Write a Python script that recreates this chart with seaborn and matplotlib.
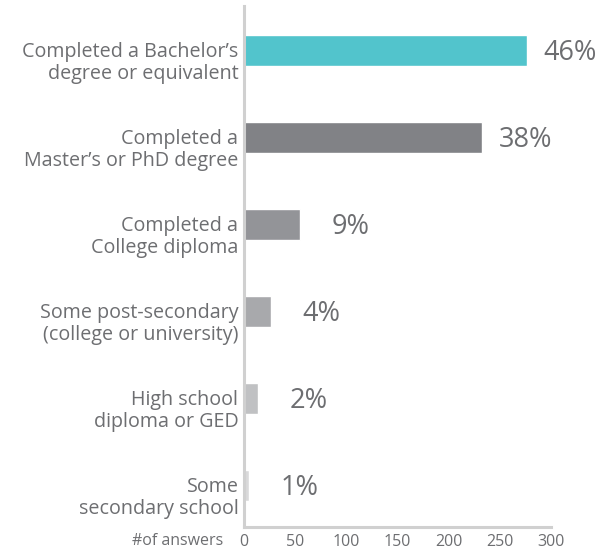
import pandas as pd
import seaborn as sns
import matplotlib.pyplot as plt
from matplotlib.transforms import ScaledTranslation

# Datos
categorias = [
    "Completed a Bachelor’s\ndegree or equivalent",
    "Completed a\nMaster’s or PhD degree",
    "Completed a\nCollege diploma",
    "Some post-secondary\n(college or university)",
    "High school\ndiploma or GED",
    "Some\nsecondary school",
]
respuestas = [277, 233, 55, 26, 14, 5]
porcentajes = ["46%", "38%", "9%", "4%", "2%", "1%"]
colores = ["#52c4cc", "#818286", "#939498", "#a8a9ac", "#c0c1c3", "#d9d9da"]
ticks_x = [0, 50, 100, 150, 200, 250, 300]

df = pd.DataFrame({"categoria": categorias, "respuestas": respuestas})

sns.set_style("white")
plt.rcParams["font.family"] = ["Open Sans", "DejaVu Sans"]

GRIS_TXT = "#6d6e71"
GRIS_EJE = "#d0d0d0"

fig = plt.figure(figsize=(6.01, 5.55), dpi=100)
ax = fig.add_axes([244 / 601, 1 - 527 / 555, 307 / 601, 521 / 555])

sns.barplot(data=df, x="respuestas", y="categoria", hue="categoria",
            palette=colores, legend=False, width=0.36, ax=ax, saturation=1)

ax.set_xlim(0, 300)
ax.set_ylim(5.48, -0.51)
ax.set_xticks(ticks_x)
ax.set_xlabel("")
ax.set_ylabel("")

for s in ["top", "right"]:
    ax.spines[s].set_visible(False)
for s in ["left", "bottom"]:
    ax.spines[s].set_color(GRIS_EJE)
    ax.spines[s].set_linewidth(2.2)

ax.tick_params(axis="x", direction="in", length=9, width=2.2, color=GRIS_EJE,
               labelsize=11.5, labelcolor=GRIS_TXT, pad=5)
ax.tick_params(axis="y", length=0, labelsize=14.2, labelcolor=GRIS_TXT, pad=4)

# etiquetas de categoria algo por debajo del centro de la barra
desplazar = ScaledTranslation(0, -9 / 100, fig.dpi_scale_trans)
for lab in ax.get_yticklabels():
    lab.set_horizontalalignment("right")
    lab.set_multialignment("right")
    lab.set_linespacing(1.12)
    lab.set_transform(lab.get_transform() + desplazar)

# porcentajes a la derecha de cada barra
for barra, txt in zip(ax.patches, porcentajes):
    ax.annotate(txt, (barra.get_width(), barra.get_y() + barra.get_height() / 2),
                xytext=(50, -2), textcoords="offset points",
                ha="right", va="center", fontsize=19.5, color=GRIS_TXT,
                annotation_clip=False)

ax.annotate("#of answers", (0, 0), xycoords="axes fraction",
            xytext=(-15, -10), textcoords="offset points",
            ha="right", va="center", fontsize=11.5, color=GRIS_TXT,
            annotation_clip=False)

fig.savefig("out.png", dpi=100)
